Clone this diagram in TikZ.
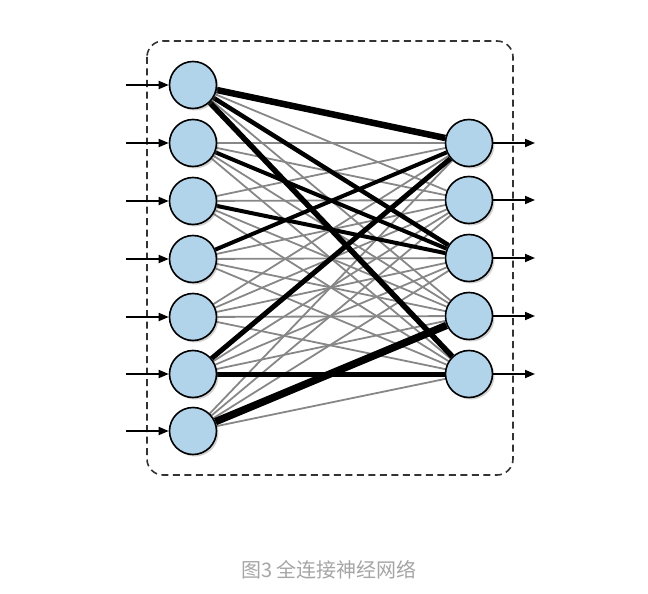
\documentclass[tikz,border=0pt]{standalone}
\usepackage{fontspec}
\newfontfamily\cjk{Noto Sans CJK SC}
\usetikzlibrary{arrows.meta,shadows,backgrounds}
\definecolor{nodeblue}{RGB}{178,212,235}
\definecolor{edgegray}{RGB}{135,135,135}
\definecolor{capgray}{RGB}{165,165,165}
\tikzset{
  neuron/.style={circle,draw=black,line width=1.6pt,fill=nodeblue,minimum size=47pt,inner sep=0pt,
    drop shadow={shadow xshift=2pt,shadow yshift=-2pt,opacity=0.3,fill=black!60}},
  weak/.style={draw=edgegray,line width=1.8pt},
  strong/.style={draw=black},
  io/.style={line width=1.8pt,-{Triangle[length=10pt,width=8pt]}},
  frame/.style={draw=black!80,line width=1.6pt,dash pattern=on 7pt off 4.5pt,rounded corners=16pt}
}
\begin{document}
\begin{tikzpicture}[x=1pt,y=-1pt]
\useasboundingbox (0,0) rectangle (648,594);
\draw[frame] (147,41) rectangle (513,475);
% left layer
\foreach \i/\y in {1/85,2/143,3/201,4/259,5/317,6/374,7/431}{
  \node[neuron] (L\i) at (193,\y) {};
  \coordinate (in\i) at (126,\y);
  \draw[io] (in\i) -- (L\i.west);
}
% right layer
\foreach \j/\y in {1/143,2/200,3/258,4/316,5/374}{
  \node[neuron] (R\j) at (469,\y) {};
  \coordinate (out\j) at (535,\y);
  \draw[io] (R\j.east) -- (out\j);
}
\begin{scope}[on background layer]
  \foreach \i in {1,...,7}{
    \foreach \j in {1,...,5}{
      \draw[weak] (L\i) -- (R\j);
    }
  }
  \draw[strong,line width=6.5pt] (L1) -- (R1);
  \draw[strong,line width=4.5pt] (L1) -- (R3);
  \draw[strong,line width=5.5pt] (L1) -- (R5);
  \draw[strong,line width=4pt] (L2) -- (R3);
  \draw[strong,line width=4pt] (L3) -- (R3);
  \draw[strong,line width=4pt] (L4) -- (R1);
  \draw[strong,line width=5pt] (L6) -- (R1);
  \draw[strong,line width=5pt] (L6) -- (R5);
  \draw[strong,line width=7.5pt] (L7) -- (R4);
\end{scope}
\node[font=\cjk\fontsize{20}{24}\selectfont,text=capgray] (cap) at (329,570) {图3 全连接神经网络};
\end{tikzpicture}
\end{document}
